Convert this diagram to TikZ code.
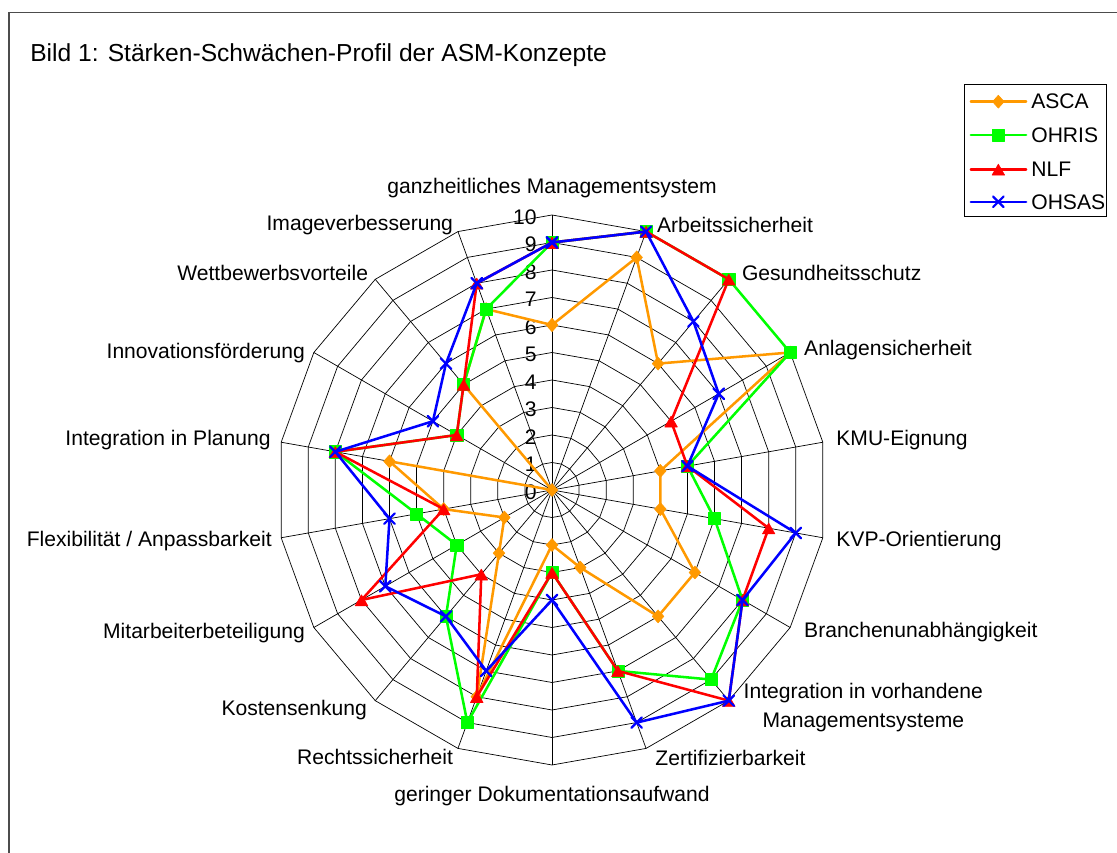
\documentclass[tikz,border=0pt]{standalone}
\usepackage{fontspec}
\setmainfont{Liberation Sans}
\usetikzlibrary{plotmarks}

\definecolor{ascaorange}{RGB}{255,153,0}
\definecolor{ohrisgreen}{RGB}{0,255,0}
\definecolor{nlfred}{RGB}{255,0,0}
\definecolor{ohsasblue}{RGB}{0,0,255}

\tikzset{
  gridline/.style={black,line width=0.5pt},
  framegray/.style={black!70,line width=1.2pt},
  legendbox/.style={black,line width=0.6pt},
  lbl/.style={inner sep=0pt,font=\fontsize{15}{20}\selectfont},
  titlelbl/.style={inner sep=0pt,font=\fontsize{17.5}{21}\selectfont},
  series/.style={line width=1.8pt,line join=round,line cap=round},
  ascaline/.style={series,ascaorange,mark=diamond*,mark size=4.6pt,
    mark options={xscale=1.2,line width=0.4pt}},
  ohrisline/.style={series,ohrisgreen,mark=square*,mark size=4.3pt,
    mark options={line width=0.4pt}},
  nlfline/.style={series,nlfred,mark=triangle*,mark size=5.2pt,
    mark options={yshift=-1.5pt,line width=0.4pt}},
  ohsasline/.style={series,ohsasblue,mark=x,mark size=5.3pt,
    mark options={line width=1.6pt}},
}

% values per axis, clockwise from the top
\def\ascadata{{6,9,6,10,4,4,6,6,3,2,8,3,2,4,6,0,5,7}}
\def\ohrisdata{{9,10,10,10,5,6,8,9,7,3,9,6,4,5,8,4,5,7}}
\def\nlfdata{{9,10,10,5,5,8,8,10,7,3,8,4,8,4,8,4,5,8}}
\def\ohsasdata{{9,10,8,7,5,9,8,10,9,4,7,6,7,6,8,5,6,8}}

\begin{document}
\begin{tikzpicture}[x=0.6875cm,y=0.6875cm]
  \useasboundingbox (-20.073,-13.2) rectangle (20.545,17.818);

  % frame of the figure
  \draw[framegray] (-19.75,-14) |- (21,17.36);

  % title
  \node[titlelbl,anchor=west] (title) at (-18.98,15.82)
    {Bild 1: Stärken-Schwächen-Profil der ASM-Konzepte};

  % draw the spokes
  \foreach \a in {0,20,...,340}
    \draw[gridline] (0,0) -- (90-\a:10);

  % draw the rings
  \foreach \r in {1,...,10}
    \draw[gridline] (90:\r) \foreach \a in {20,40,...,340} { -- (90-\a:\r) } -- cycle;

  % scale numbers
  \foreach \n in {0,...,10}
    \node[lbl,anchor=east] (tick\n) at (-0.55,\n-0.08) {\n};

  % the four profiles
  \draw[ascaline] plot[samples at={0,...,18}] ({90-20*\x}:{\ascadata[int(mod(\x,18))]});
  \draw[ohrisline] plot[samples at={0,...,18}] ({90-20*\x}:{\ohrisdata[int(mod(\x,18))]});
  \draw[nlfline] plot[samples at={0,...,18}] ({90-20*\x}:{\nlfdata[int(mod(\x,18))]});
  \draw[ohsasline] plot[samples at={0,...,18}] ({90-20*\x}:{\ohsasdata[int(mod(\x,18))]});

  % axis labels
  \node[lbl] (ganzheit) at (0,10.98) {ganzheitliches Managementsystem};
  \node[lbl,anchor=west] (arbeit) at (3.81,9.64) {Arbeitssicherheit};
  \node[lbl,anchor=west] (gesund) at (6.90,7.88) {Gesundheitsschutz};
  \node[lbl,anchor=west] (anlagen) at (9.16,5.09) {Anlagensicherheit};
  \node[lbl,anchor=west] (kmu) at (10.33,1.82) {KMU-Eignung};
  \node[lbl,anchor=west] (kvp) at (10.33,-1.85) {KVP-Orientierung};
  \node[lbl,anchor=west] (branche) at (9.16,-5.15) {Branchenunabhängigkeit};
  \node[lbl,align=center] (integvorh) at (11.32,-7.91)
    {Integration in vorhandene\\Managementsysteme};
  \node[lbl,anchor=west] (zert) at (3.75,-9.76) {Zertifizierbarkeit};
  \node[lbl] (doku) at (0,-11.13) {geringer Dokumentationsaufwand};
  \node[lbl,anchor=east] (recht) at (-3.59,-9.70) {Rechtssicherheit};
  \node[lbl,anchor=east] (kosten) at (-6.72,-8.0) {Kostensenkung};
  \node[lbl,anchor=east] (mitarb) at (-8.98,-5.22) {Mitarbeiterbeteiligung};
  \node[lbl,anchor=east] (flex) at (-10.18,-1.85) {Flexibilität / Anpassbarkeit};
  \node[lbl,anchor=east] (integpl) at (-10.22,1.82) {Integration in Planung};
  \node[lbl,anchor=east] (innov) at (-8.98,4.97) {Innovationsförderung};
  \node[lbl,anchor=east] (wettb) at (-6.68,7.88) {Wettbewerbsvorteile};
  \node[lbl,anchor=east] (image) at (-3.59,9.64) {Imageverbesserung};

  % legend
  \draw[legendbox] (14.98,14.73) rectangle (20.15,9.94);
  \foreach \y/\st/\name in {14.12/ascaline/ASCA,12.91/ohrisline/OHRIS,
                            11.66/nlfline/NLF,10.48/ohsasline/OHSAS}{
    \draw[\st,mark indices={2}] plot coordinates {(15.23,\y) (16.23,\y) (17.24,\y)};
    \node[lbl,anchor=west] (leg\name) at (17.42,\y) {\name};
  }
\end{tikzpicture}
\end{document}
